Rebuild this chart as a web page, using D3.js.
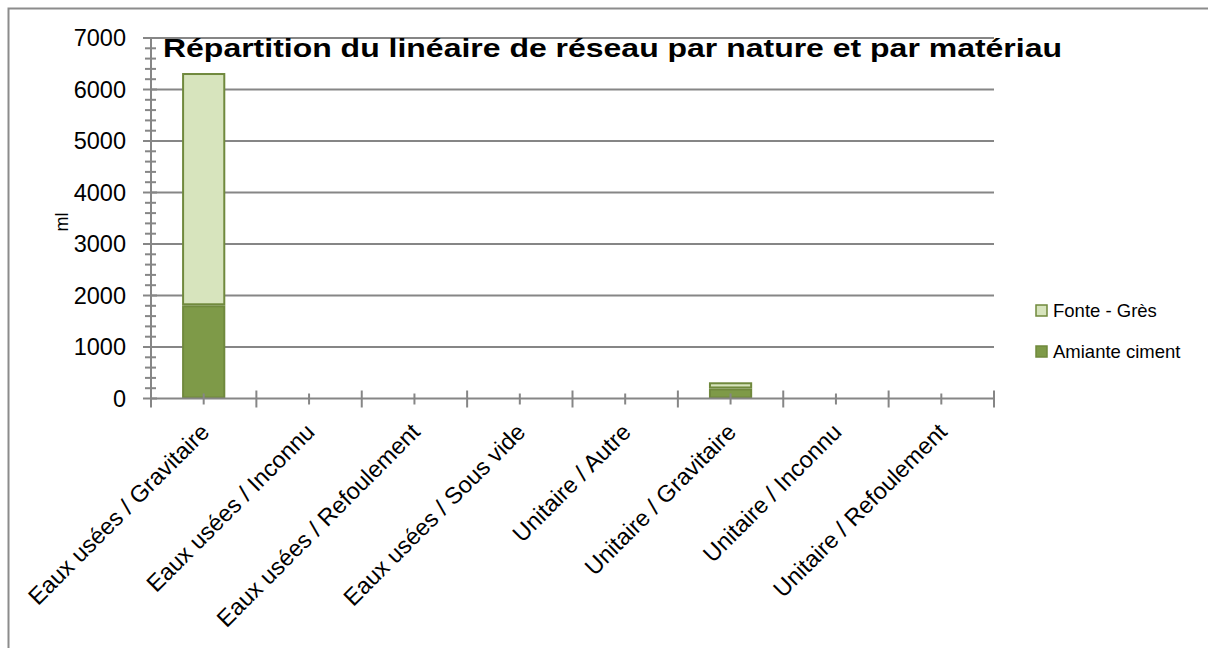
<!DOCTYPE html>
<html>
<head>
<meta charset="utf-8">
<script src="https://cdn.jsdelivr.net/npm/d3@7"></script>
<style>
  body { margin: 0; background: #fff; }
  svg { display: block; }
</style>
</head>
<body>
<svg id="chart" width="1208" height="648"></svg>
<script>
const categories = [
  "Eaux usées / Gravitaire",
  "Eaux usées / Inconnu",
  "Eaux usées / Refoulement",
  "Eaux usées / Sous vide",
  "Unitaire / Autre",
  "Unitaire / Gravitaire",
  "Unitaire / Inconnu",
  "Unitaire / Refoulement"
];
const amianteCiment = [1810, 0, 0, 0, 0, 195, 0, 0];
const fonteGres = [4510, 0, 0, 0, 0, 120, 0, 0];
const seriesNames = ["Amiante ciment", "Fonte - Grès"];
const yTicks = [0, 1000, 2000, 3000, 4000, 5000, 6000, 7000];
const titleText = "Répartition du linéaire de réseau par nature et par matériau";
const yLabel = "ml";

const svg = d3.select("#chart");
const axisColor = "#868686";
const font = "'Liberation Sans', Arial, sans-serif";

// outer border
svg.append("rect").attr("x", 8.5).attr("y", 8.5).attr("width", 1220).attr("height", 660)
  .attr("fill", "none").attr("stroke", "#8c8c8c").attr("stroke-width", 2);

const x0 = 151, x1 = 994, yBottom = 398.5, yTop = 38;
const x = d3.scaleBand().domain(categories).range([x0, x1]).paddingInner(0.59).paddingOuter(0.295);
const y = d3.scaleLinear().domain([0, 7000]).range([yBottom, yTop]);

// gridlines
svg.append("g").selectAll("line").data(yTicks.filter(d => d > 0)).join("line")
  .attr("x1", x0).attr("x2", x1).attr("y1", d => y(d)).attr("y2", d => y(d))
  .attr("stroke", axisColor).attr("stroke-width", 2);

// stacked data
const rows = categories.map((c, i) => ({ cat: c, "Amiante ciment": amianteCiment[i], "Fonte - Grès": fonteGres[i] }));
const stack = d3.stack().keys(seriesNames)(rows);
const fills = { "Amiante ciment": "#7E9A48", "Fonte - Grès": "#D7E4BD" };
const strokeCol = "#70893D";

stack.forEach(layer => {
  svg.append("g").selectAll("rect").data(layer.filter(d => d[1] - d[0] > 0)).join("rect")
    .attr("x", d => x(d.data.cat) + 1)
    .attr("width", x.bandwidth() - 2)
    .attr("y", d => y(d[1]) + 1)
    .attr("height", d => Math.max(0, y(d[0]) - y(d[1]) - 2))
    .attr("fill", fills[layer.key])
    .attr("stroke", strokeCol).attr("stroke-width", 2);
});

// y axis
const yAxisG = svg.append("g");
yAxisG.append("line").attr("x1", x0).attr("x2", x0).attr("y1", yTop).attr("y2", yBottom)
  .attr("stroke", axisColor).attr("stroke-width", 2);
const minor = d3.range(0, 7001, 200);
yAxisG.selectAll("line.minor").data(minor).join("line").attr("class", "minor")
  .attr("x1", d => d % 1000 === 0 ? x0 - 8 : x0 - 6)
  .attr("x2", d => d % 1000 === 0 ? x0 + 6 : x0 + 5)
  .attr("y1", d => y(d)).attr("y2", d => y(d))
  .attr("stroke", axisColor).attr("stroke-width", 2);
yAxisG.selectAll("text").data(yTicks).join("text")
  .attr("x", x0 - 25).attr("y", d => y(d)).attr("dy", "0.36em")
  .attr("text-anchor", "end").attr("font-family", font).attr("font-size", 23.5)
  .attr("fill", "#000").text(d => d);

// x axis
const xAxisG = svg.append("g");
xAxisG.append("line").attr("x1", x0).attr("x2", x1).attr("y1", yBottom).attr("y2", yBottom)
  .attr("stroke", axisColor).attr("stroke-width", 2);
const step = x.step();
const boundaries = d3.range(categories.length + 1).map(i => x0 + i * step);
xAxisG.selectAll("line.b").data(boundaries).join("line").attr("class", "b")
  .attr("x1", d => d).attr("x2", d => d).attr("y1", yBottom - 8).attr("y2", yBottom + 9)
  .attr("stroke", axisColor).attr("stroke-width", 2);
xAxisG.selectAll("line.c").data(categories).join("line").attr("class", "c")
  .attr("x1", d => x(d) + x.bandwidth() / 2).attr("x2", d => x(d) + x.bandwidth() / 2)
  .attr("y1", yBottom - 5).attr("y2", yBottom + 6)
  .attr("stroke", axisColor).attr("stroke-width", 2);
xAxisG.selectAll("text").data(categories).join("text")
  .attr("transform", d => `translate(${x(d) + x.bandwidth() / 2 + 7},${yBottom + 35}) rotate(-45)`)
  .attr("text-anchor", "end").attr("font-family", font).attr("font-size", 23.5)
  .attr("fill", "#000").text(d => d);

// y label
svg.append("text").attr("transform", "translate(68,222) rotate(-90)")
  .attr("text-anchor", "middle").attr("font-family", font).attr("font-size", 18)
  .text(yLabel);

// title
svg.append("text").attr("x", 612.5).attr("y", 57).attr("text-anchor", "middle")
  .attr("font-family", font).attr("font-weight", "bold").attr("font-size", 25)
  .attr("textLength", 899).attr("lengthAdjust", "spacingAndGlyphs")
  .attr("fill", "#000").text(titleText);

// legend
const legendItems = [
  { name: "Fonte - Grès", y: 305 },
  { name: "Amiante ciment", y: 346 }
];
const lg = svg.append("g");
legendItems.forEach(it => {
  lg.append("rect").attr("x", 1036).attr("y", it.y).attr("width", 11).attr("height", 11)
    .attr("fill", fills[it.name]).attr("stroke", strokeCol).attr("stroke-width", 1.5);
  lg.append("text").attr("x", 1053).attr("y", it.y + 12).attr("font-family", font)
    .attr("font-size", 18.5).attr("fill", "#000").text(it.name);
});
</script>
</body>
</html>
